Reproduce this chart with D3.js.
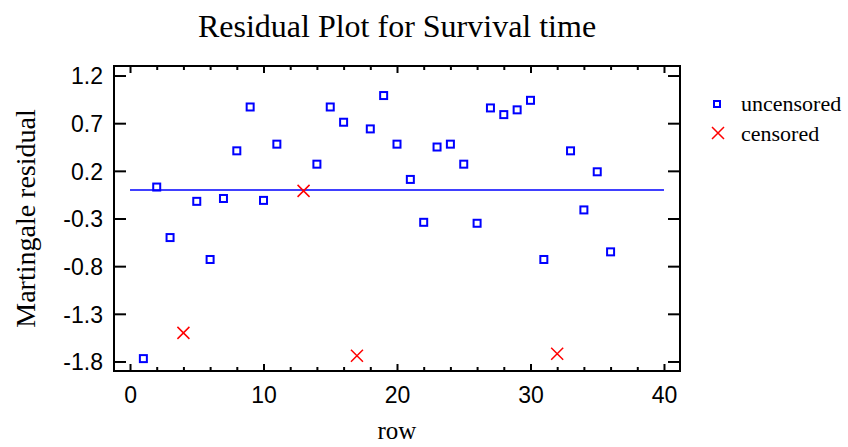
<!DOCTYPE html>
<html>
<head>
<meta charset="utf-8">
<script src="https://cdn.jsdelivr.net/npm/d3@7"></script>
<style>
  body { margin: 0; background: #fff; }
  .tick-label { font-family: "Liberation Sans", Arial, sans-serif; font-size: 23px; fill: #000; }
  .serif { font-family: "Liberation Serif", "Times New Roman", serif; fill: #000; }
</style>
</head>
<body>
<svg id="chart" width="848" height="447"></svg>
<script>
// row numbers and martingale residuals
const uncensoredRows = [1, 2, 3, 5, 6, 7, 8, 9, 10, 11, 14, 15, 16, 18, 19, 20, 21, 22, 23, 24, 25, 26, 27, 28, 29, 30, 31, 33, 34, 35, 36];
const uncensoredResid = [-1.77, 0.03, -0.50, -0.12, -0.73, -0.09, 0.41, 0.87, -0.11, 0.48, 0.27, 0.87, 0.71, 0.64, 0.99, 0.48, 0.11, -0.34, 0.45, 0.48, 0.27, -0.35, 0.86, 0.79, 0.84, 0.94, -0.73, 0.41, -0.21, 0.19, -0.65];
const censoredRows = [4, 13, 17, 32];
const censoredResid = [-1.50, -0.01, -1.74, -1.72];

const xMajorTicks = [0, 10, 20, 30, 40];
const xMinorTicks = [2, 4, 6, 8, 12, 14, 16, 18, 22, 24, 26, 28, 32, 34, 36, 38];
const yTicks = [1.2, 0.7, 0.2, -0.3, -0.8, -1.3, -1.8];
const refLine = { from: 0, to: 40, value: 0 };

const svg = d3.select('#chart');
const plot = { left: 114, right: 680, top: 66, bottom: 371 };

const x = d3.scaleLinear().domain([-1.2, 41.2]).range([plot.left, plot.right]);
const y = d3.scaleLinear().domain([-1.9, 1.3]).range([plot.bottom, plot.top]);

// title
svg.append('text')
  .attr('class', 'serif')
  .attr('x', (plot.left + plot.right) / 2)
  .attr('y', 37)
  .attr('text-anchor', 'middle')
  .style('font-size', '32px')
  .text('Residual Plot for Survival time');

// axes, ticks pointing inward
const styleAxis = g => {
  g.select('.domain').remove();
  g.selectAll('.tick line').attr('stroke', '#000').attr('stroke-width', 2);
};

svg.append('g')
  .attr('transform', `translate(0,${plot.bottom})`)
  .call(d3.axisBottom(x).tickValues(xMajorTicks).tickSize(-7).tickFormat(d3.format('d')))
  .call(styleAxis)
  .call(g => g.selectAll('text').attr('class', 'tick-label').attr('dy', null).attr('y', 32));

svg.append('g')
  .attr('transform', `translate(0,${plot.bottom})`)
  .call(d3.axisBottom(x).tickValues(xMinorTicks).tickSize(-4).tickFormat(''))
  .call(styleAxis);

svg.append('g')
  .attr('transform', `translate(0,${plot.top})`)
  .call(d3.axisTop(x).tickValues(xMajorTicks).tickSize(-7).tickFormat(''))
  .call(styleAxis);

svg.append('g')
  .attr('transform', `translate(0,${plot.top})`)
  .call(d3.axisTop(x).tickValues(xMinorTicks).tickSize(-4).tickFormat(''))
  .call(styleAxis);

svg.append('g')
  .attr('transform', `translate(${plot.left},0)`)
  .call(d3.axisLeft(y).tickValues(yTicks).tickSize(-12).tickFormat(d => d.toFixed(1)))
  .call(styleAxis)
  .call(g => g.selectAll('text').attr('class', 'tick-label').attr('x', -11).attr('dy', '0.36em'));

svg.append('g')
  .attr('transform', `translate(${plot.right},0)`)
  .call(d3.axisRight(y).tickValues(yTicks).tickSize(-12).tickFormat(''))
  .call(styleAxis);

// frame
svg.append('rect')
  .attr('x', plot.left)
  .attr('y', plot.top)
  .attr('width', plot.right - plot.left)
  .attr('height', plot.bottom - plot.top)
  .attr('fill', 'none')
  .attr('stroke', '#000')
  .attr('stroke-width', 2);

// axis titles
svg.append('text')
  .attr('class', 'serif')
  .attr('x', (plot.left + plot.right) / 2)
  .attr('y', 439)
  .attr('text-anchor', 'middle')
  .style('font-size', '25px')
  .text('row');

svg.append('text')
  .attr('class', 'serif')
  .attr('transform', `translate(35,${(plot.top + plot.bottom) / 2}) rotate(-90)`)
  .attr('text-anchor', 'middle')
  .style('font-size', '28px')
  .text('Martingale residual');

// zero line
svg.append('line')
  .attr('x1', x(refLine.from))
  .attr('x2', x(refLine.to))
  .attr('y1', y(refLine.value))
  .attr('y2', y(refLine.value))
  .attr('stroke', '#0000ff')
  .attr('stroke-width', 1.5);

const squareSize = 7;
const crossSize = 6;

const drawSquares = (sel) => sel
  .attr('width', squareSize)
  .attr('height', squareSize)
  .attr('fill', 'none')
  .attr('stroke', '#0000ff')
  .attr('stroke-width', 2);

const drawCross = (sel) => sel
  .attr('d', `M${-crossSize},${-crossSize}L${crossSize},${crossSize}M${-crossSize},${crossSize}L${crossSize},${-crossSize}`)
  .attr('fill', 'none')
  .attr('stroke', '#ff0000')
  .attr('stroke-width', 1.5);

svg.append('g')
  .selectAll('rect')
  .data(uncensoredRows.map((r, i) => ({ row: r, resid: uncensoredResid[i] })))
  .enter()
  .append('rect')
  .attr('x', d => x(d.row) - squareSize / 2)
  .attr('y', d => y(d.resid) - squareSize / 2)
  .call(drawSquares);

svg.append('g')
  .selectAll('path')
  .data(censoredRows.map((r, i) => ({ row: r, resid: censoredResid[i] })))
  .enter()
  .append('path')
  .attr('transform', d => `translate(${x(d.row)},${y(d.resid)})`)
  .call(drawCross);

// legend
const legend = svg.append('g').attr('transform', 'translate(717,0)');

legend.append('rect')
  .attr('x', -3)
  .attr('y', 101)
  .call(s => drawSquares(s).attr('width', 6).attr('height', 6));
legend.append('text')
  .attr('class', 'serif')
  .attr('x', 24)
  .attr('y', 111)
  .style('font-size', '22px')
  .text('uncensored');

legend.append('path')
  .attr('transform', 'translate(1,133)')
  .call(drawCross);
legend.append('text')
  .attr('class', 'serif')
  .attr('x', 24)
  .attr('y', 141)
  .style('font-size', '22px')
  .text('censored');
</script>
</body>
</html>
